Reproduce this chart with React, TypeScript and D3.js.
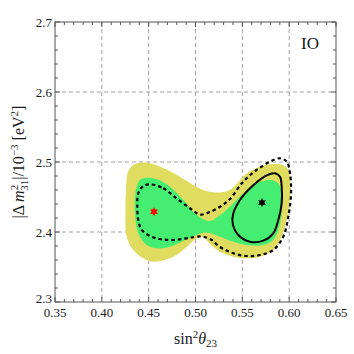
import React from 'react'
import * as d3 from 'd3'

// axis ticks
const xMajor = [0.35, 0.4, 0.45, 0.5, 0.55, 0.6, 0.65]
const xLabels = ['0.35', '0.40', '0.45', '0.50', '0.55', '0.60', '0.65']
const yMajor = [2.3, 2.4, 2.5, 2.6, 2.7]
const yLabels = ['2.3', '2.4', '2.5', '2.6', '2.7']

// region contours [sin^2 theta23, dm31^2]
const outerRegion: [number, number][] = [
  [0.4279, 2.4857], [0.4333, 2.4957], [0.4407, 2.499], [0.4514, 2.4981], [0.4653, 2.4914],
  [0.4802, 2.4814], [0.4941, 2.47], [0.508, 2.46], [0.5229, 2.4564], [0.5368, 2.46],
  [0.5547, 2.4838], [0.5689, 2.4933], [0.5827, 2.4971], [0.5934, 2.4957], [0.5991, 2.4886],
  [0.6016, 2.4696], [0.6009, 2.4457], [0.5974, 2.4171], [0.592, 2.3933], [0.583, 2.3743],
  [0.5689, 2.3647], [0.5547, 2.3624], [0.5404, 2.3647], [0.5262, 2.3719], [0.5155, 2.3829],
  [0.508, 2.3929], [0.5013, 2.391], [0.487, 2.3743], [0.4728, 2.3624], [0.4549, 2.3576],
  [0.4443, 2.3624], [0.4336, 2.3743], [0.4265, 2.3933], [0.4253, 2.4314], [0.4258, 2.46],
]

const innerRegion: [number, number][] = [
  [0.4354, 2.4504], [0.4372, 2.4647], [0.4407, 2.4743], [0.4479, 2.4776], [0.4586, 2.4753],
  [0.4728, 2.4647], [0.487, 2.4457], [0.5013, 2.4243], [0.5155, 2.4157], [0.5262, 2.4243],
  [0.5368, 2.4361], [0.551, 2.4553], [0.5653, 2.4696], [0.5795, 2.4743], [0.5884, 2.4696],
  [0.592, 2.4553], [0.592, 2.4314], [0.5895, 2.4076], [0.583, 2.3886], [0.5724, 2.3814],
  [0.5547, 2.3814], [0.5404, 2.3861], [0.5262, 2.3933], [0.5155, 2.3986], [0.5083, 2.399],
  [0.4906, 2.3896], [0.4728, 2.379], [0.4586, 2.3767], [0.4479, 2.3814], [0.4389, 2.3981],
  [0.4354, 2.4267],
]

const dashedContour: [number, number][] = [
  [0.4514, 2.4681], [0.4656, 2.4624], [0.4799, 2.4481], [0.4941, 2.4339], [0.5048, 2.425],
  [0.5155, 2.4286], [0.5262, 2.4361], [0.5368, 2.4471], [0.551, 2.4719], [0.5653, 2.4886],
  [0.5795, 2.5004], [0.5902, 2.5053], [0.5974, 2.5004], [0.6009, 2.4839], [0.602, 2.4553],
  [0.5991, 2.4219], [0.5937, 2.3933], [0.583, 2.3743], [0.5689, 2.3671], [0.5547, 2.3657],
  [0.5404, 2.3696], [0.5262, 2.3786], [0.5155, 2.39], [0.5048, 2.3936], [0.4906, 2.391],
  [0.4749, 2.3886], [0.462, 2.39], [0.4514, 2.3943], [0.4426, 2.4029], [0.4389, 2.4171],
  [0.4379, 2.4361], [0.4389, 2.4553], [0.4443, 2.4657],
]

const solidContour: [number, number][] = [
  [0.5849, 2.4839], [0.5902, 2.479], [0.592, 2.4647], [0.592, 2.441], [0.5884, 2.4171],
  [0.583, 2.3981], [0.5724, 2.3876], [0.5582, 2.3861], [0.5457, 2.3957], [0.5397, 2.4124],
  [0.5404, 2.4267], [0.5475, 2.4457], [0.5582, 2.4624], [0.5707, 2.4767], [0.5795, 2.4829],
]

const bestFit: [number, number] = [0.571, 2.442]
const trueValue: [number, number] = [0.4557, 2.429]

const width = 354
const height = 354
const plot = { left: 55, right: 336, top: 22, bottom: 302 }

const colors = {
  outer: '#e0dc60',
  inner: '#45ee70',
  frame: '#555',
  grid: '#999',
  text: '#1a1a1a',
}

function starPath(cx: number, cy: number, r: number) {
  const pts = d3.range(12).map((i) => {
    const a = (i * Math.PI) / 6 - Math.PI / 2
    const rr = i % 2 === 0 ? r : r * 0.55
    return [cx + rr * Math.cos(a), cy + rr * Math.sin(a)]
  })
  return 'M' + pts.map((p) => p.join(',')).join('L') + 'Z'
}

export default function App() {
  const x = d3.scaleLinear().domain([0.35, 0.65]).range([plot.left, plot.right])
  const y = d3.scaleLinear().domain([2.3, 2.7]).range([plot.bottom, plot.top])

  const line = d3
    .line<[number, number]>()
    .x((d) => x(d[0]))
    .y((d) => y(d[1]))
    .curve(d3.curveCatmullRomClosed.alpha(0.5))

  const xMinor = d3.range(0.35, 0.6501, 0.01).map((v) => +v.toFixed(3))
  const yMinor = d3.range(2.3, 2.7001, 0.02).map((v) => +v.toFixed(3))
  const serif = 'Liberation Serif, Times New Roman, serif'

  return (
    <svg
      width={width}
      height={height}
      style={{ position: 'absolute', left: 0, top: 0, background: '#fff' }}
    >
      <rect x={0} y={0} width={width} height={height} fill="#fff" />

      {/* grid */}
      {xMajor.slice(1, -1).map((v) => (
        <line key={'gx' + v} x1={x(v)} x2={x(v)} y1={plot.top} y2={plot.bottom}
          stroke={colors.grid} strokeWidth={0.9} strokeDasharray="4,3" />
      ))}
      {yMajor.slice(1, -1).map((v) => (
        <line key={'gy' + v} x1={plot.left} x2={plot.right} y1={y(v)} y2={y(v)}
          stroke={colors.grid} strokeWidth={0.9} strokeDasharray="4,3" />
      ))}

      {/* regions */}
      <path d={line(outerRegion) || ''} fill={colors.outer} stroke="none" />
      <path d={line(innerRegion) || ''} fill={colors.inner} stroke="none" />
      <path d={line(dashedContour) || ''} fill="none" stroke="#000" strokeWidth={2.2}
        strokeDasharray="3.5,3" />
      <path d={line(solidContour) || ''} fill="none" stroke="#000" strokeWidth={2} />

      <path d={starPath(x(bestFit[0]), y(bestFit[1]), 4.5)} fill="#000" />
      <path d={starPath(x(trueValue[0]), y(trueValue[1]), 4.5)} fill="#f00" />

      {/* ticks */}
      {xMinor.map((v, i) => {
        const len = i % 5 === 0 ? 5 : 3
        return (
          <g key={'tx' + i}>
            <line x1={x(v)} x2={x(v)} y1={plot.bottom} y2={plot.bottom - len} stroke={colors.frame} />
            <line x1={x(v)} x2={x(v)} y1={plot.top} y2={plot.top + len} stroke={colors.frame} />
          </g>
        )
      })}
      {yMinor.map((v, i) => {
        const len = i % 5 === 0 ? 5 : 3
        return (
          <g key={'ty' + i}>
            <line x1={plot.left} x2={plot.left + len} y1={y(v)} y2={y(v)} stroke={colors.frame} />
            <line x1={plot.right} x2={plot.right - len} y1={y(v)} y2={y(v)} stroke={colors.frame} />
          </g>
        )
      })}

      {/* frame */}
      <rect x={plot.left} y={plot.top} width={plot.right - plot.left} height={plot.bottom - plot.top}
        fill="none" stroke={colors.frame} strokeWidth={1} />

      {/* tick labels */}
      {xMajor.map((v, i) => (
        <text key={'lx' + v} x={x(v)} y={plot.bottom + 15} textAnchor="middle"
          fontFamily={serif} fontSize={13} fill={colors.text}>
          {xLabels[i]}
        </text>
      ))}
      {yMajor.map((v, i) => (
        <text key={'ly' + v} x={plot.left - 3} y={y(v) + (i === 0 ? 1 : i === yMajor.length - 1 ? 5 : 4.5)}
          textAnchor="end" fontFamily={serif} fontSize={13} fill={colors.text}>
          {yLabels[i]}
        </text>
      ))}

      {/* IO label */}
      <text x={310} y={49} textAnchor="middle" fontFamily={serif} fontSize={17} fill={colors.text}>
        IO
      </text>

      {/* axis titles */}
      <text x={(plot.left + plot.right) / 2} y={344} textAnchor="middle" fontFamily={serif}
        fontSize={16} fill={colors.text}>
        sin
        <tspan dy={-6} fontSize={11}>2</tspan>
        <tspan dy={6} fontStyle="italic">θ</tspan>
        <tspan dy={3} fontSize={11}>23</tspan>
      </text>
      <text transform={`translate(24, ${(plot.top + plot.bottom) / 2}) rotate(-90)`}
        textAnchor="middle" fontFamily={serif} fontSize={16} fill={colors.text}>
        |Δ
        <tspan dx={3} fontStyle="italic">m</tspan>
        <tspan dy={-6} fontSize={11}>2</tspan>
        <tspan dx={-6} dy={10} fontSize={11}>31</tspan>
        <tspan dy={-4}>|/10</tspan>
        <tspan dy={-6} fontSize={11}>−3</tspan>
        <tspan dy={6}> [eV</tspan>
        <tspan dy={-6} fontSize={11}>2</tspan>
        <tspan dy={6}>]</tspan>
      </text>
    </svg>
  )
}
